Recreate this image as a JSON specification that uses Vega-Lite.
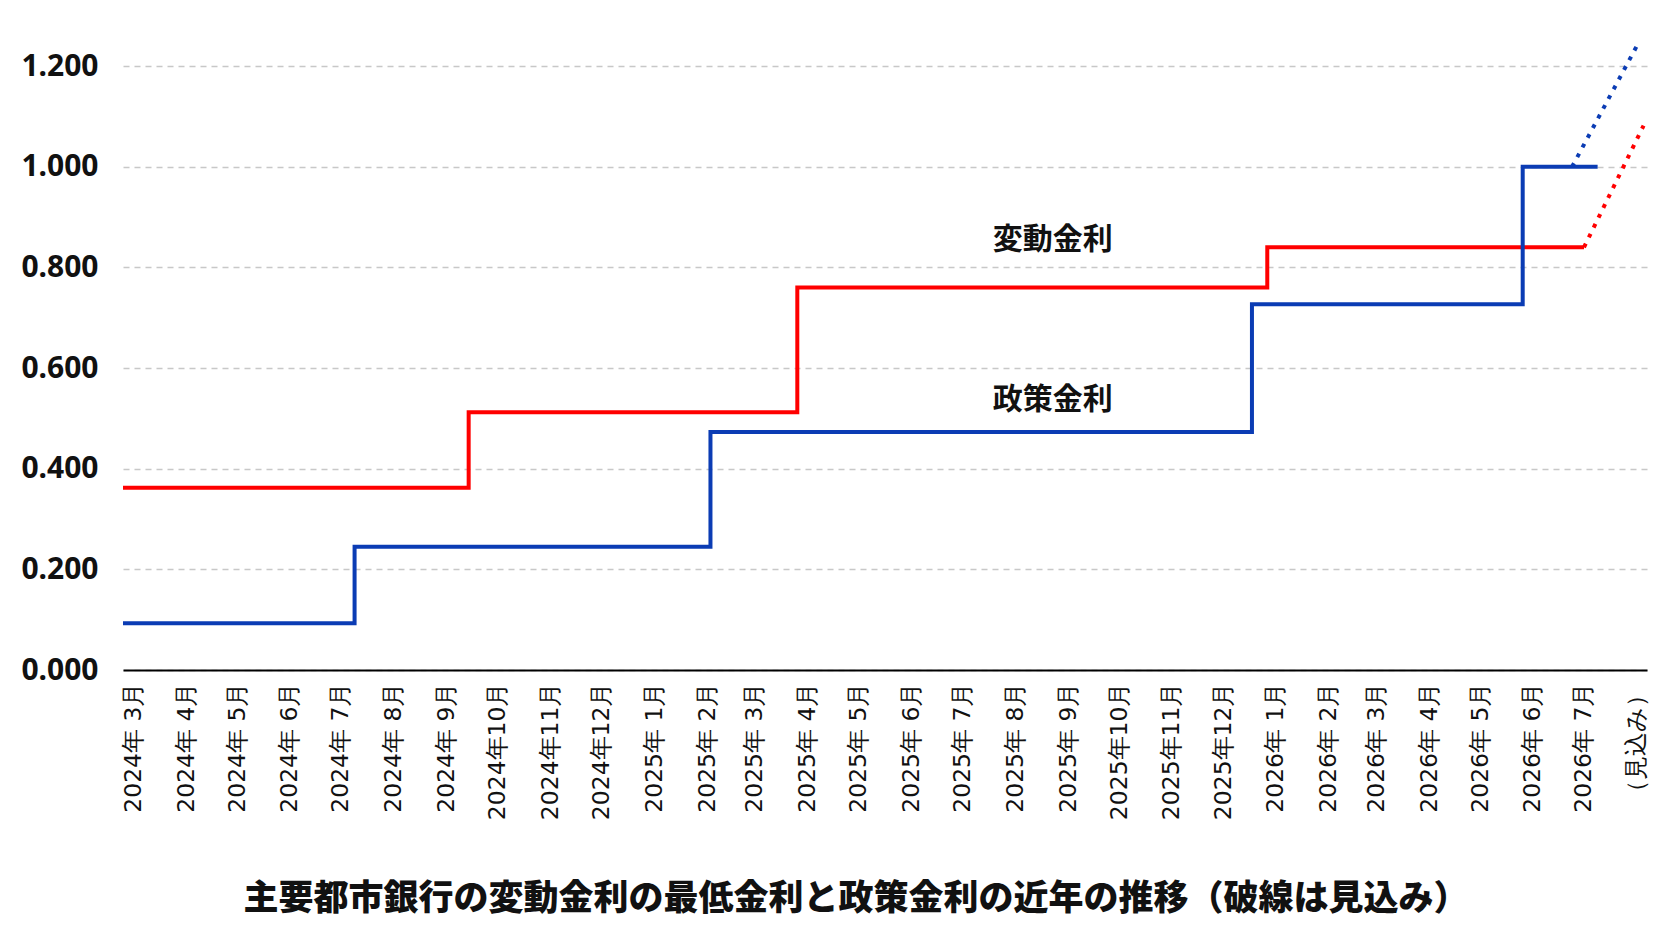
{
  "$schema": "https://vega.github.io/schema/vega-lite/v6.json",
  "autosize": {"type": "none"},
  "width": 1524,
  "height": 629,
  "padding": {"left": 123, "top": 41, "right": 25, "bottom": 271},
  "background": "white",
  "title": {
    "text": "主要都市銀行の変動金利の最低金利と政策金利の近年の推移（破線は見込み）",
    "orient": "bottom",
    "anchor": "middle",
    "font": "Noto Sans CJK JP",
    "fontSize": 35,
    "fontWeight": 900,
    "color": "#111111",
    "offset": 62,
    "dx": -29
  },
  "config": {
    "view": {"stroke": null},
    "axis": {"titleFontSize": 0}
  },
  "layer": [
    {
      "data": {
        "values": [
          {"series": "変動金利", "kind": "実績", "date": "2024-02-24", "rate": 0.362},
          {"series": "変動金利", "kind": "実績", "date": "2024-09-14", "rate": 0.512},
          {"series": "変動金利", "kind": "実績", "date": "2025-03-26", "rate": 0.760},
          {"series": "変動金利", "kind": "実績", "date": "2025-12-27", "rate": 0.840},
          {"series": "変動金利", "kind": "実績", "date": "2026-07-01", "rate": 0.840},
          {"series": "政策金利", "kind": "実績", "date": "2024-02-24", "rate": 0.093},
          {"series": "政策金利", "kind": "実績", "date": "2024-07-09", "rate": 0.245},
          {"series": "政策金利", "kind": "実績", "date": "2025-02-03", "rate": 0.473},
          {"series": "政策金利", "kind": "実績", "date": "2025-12-18", "rate": 0.727},
          {"series": "政策金利", "kind": "実績", "date": "2026-05-26", "rate": 1.000},
          {"series": "政策金利", "kind": "実績", "date": "2026-07-09", "rate": 1.000}
        ]
      },
      "mark": {"type": "line", "interpolate": "step-after", "strokeWidth": 4, "strokeCap": "butt"},
      "encoding": {
        "x": {
          "field": "date",
          "type": "temporal",
          "scale": {"domain": [{"year": 2024, "month": 2, "date": 24}, {"year": 2026, "month": 8, "date": 7}], "nice": false},
          "axis": {
            "title": null,
            "tickCount": {"interval": "month", "step": 1},
            "labelExpr": "(month(datum.value) == 7 && year(datum.value) == 2026) ? '（見込み）' : timeFormat(datum.value, '%Y年%_m月')",
            "labelAngle": -90,
            "labelFont": "DejaVu Sans",
            "labelFontSize": 23.5,
            "labelColor": "#111111",
            "labelPadding": 12,
            "labelOverlap": false,
            "labelFlush": false,
            "labelBound": false,
            "ticks": false,
            "grid": false,
            "domain": true,
            "domainColor": "#000000",
            "domainWidth": 2
          }
        },
        "y": {
          "field": "rate",
          "type": "quantitative",
          "scale": {"domain": [0, 1.25], "nice": false, "zero": true},
          "axis": {
            "title": null,
            "values": [0, 0.2, 0.4, 0.6, 0.8, 1.0, 1.2],
            "format": ".3f",
            "labelFont": "Noto Sans",
            "labelFontWeight": "bold",
            "labelFontSize": 30,
            "labelColor": "#111111",
            "labelPadding": 25,
            "ticks": false,
            "domain": false,
            "grid": true,
            "gridColor": "#c8c8c8",
            "gridDash": [6, 5],
            "gridWidth": 1.5
          }
        },
        "color": {
          "field": "series",
          "type": "nominal",
          "scale": {"domain": ["変動金利", "政策金利"], "range": ["#ff0000", "#0b3cb4"]},
          "legend": null
        },
        "detail": {"field": "series"}
      }
    },
    {
      "data": {
        "values": [
          {"series": "変動金利", "kind": "見込み", "date": "2026-07-01", "rate": 0.840},
          {"series": "変動金利", "kind": "見込み", "date": "2026-08-05", "rate": 1.082},
          {"series": "政策金利", "kind": "見込み", "date": "2026-06-24", "rate": 1.000},
          {"series": "政策金利", "kind": "見込み", "date": "2026-08-01", "rate": 1.240}
        ]
      },
      "mark": {"type": "line", "strokeWidth": 4, "strokeDash": [4, 7], "strokeCap": "butt"},
      "encoding": {
        "x": {"field": "date", "type": "temporal"},
        "y": {"field": "rate", "type": "quantitative"},
        "color": {"field": "series", "type": "nominal", "legend": null},
        "detail": {"field": "series"}
      }
    },
    {
      "data": {
        "values": [
          {"label": "変動金利", "date": "2025-08-23", "rate": 0.855},
          {"label": "政策金利", "date": "2025-08-23", "rate": 0.537}
        ]
      },
      "mark": {"type": "text", "font": "Noto Sans CJK JP", "fontSize": 30, "fontWeight": "bold", "color": "#111111", "align": "center", "baseline": "middle"},
      "encoding": {
        "x": {"field": "date", "type": "temporal"},
        "y": {"field": "rate", "type": "quantitative"},
        "text": {"field": "label"}
      }
    }
  ]
}
